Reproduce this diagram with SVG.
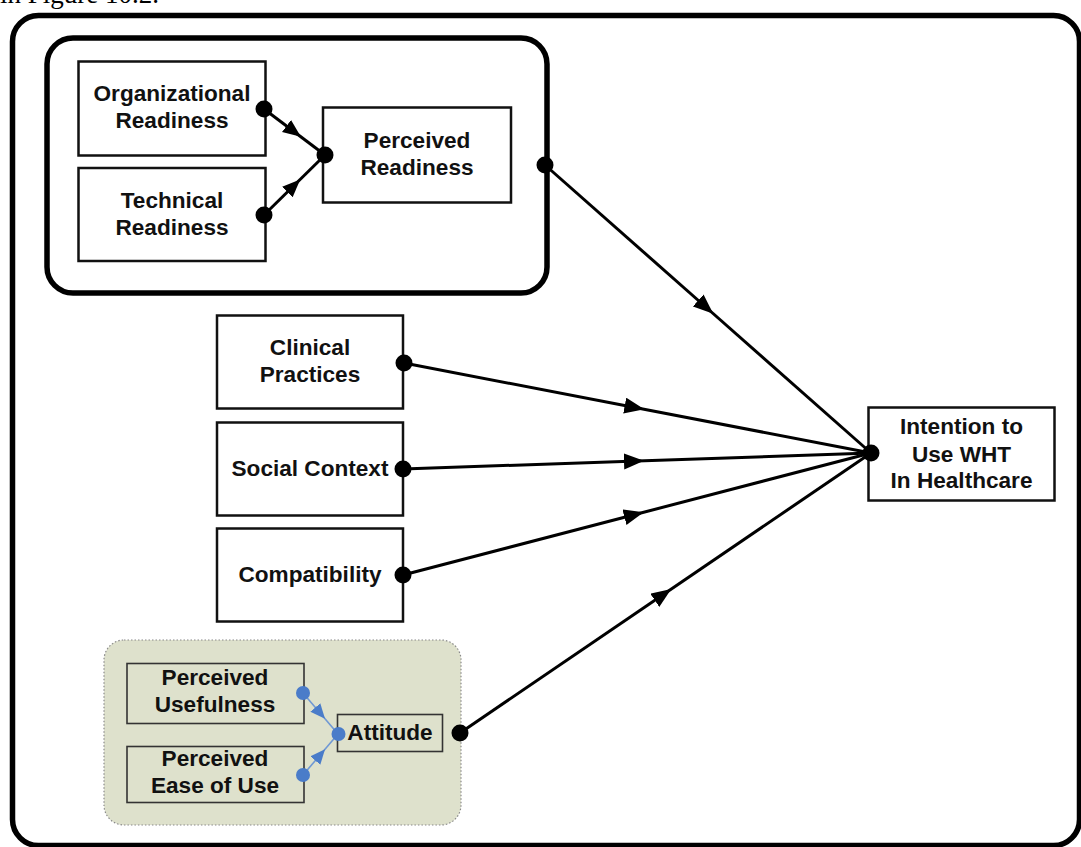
<svg xmlns="http://www.w3.org/2000/svg" width="1081" height="847" viewBox="0 0 1081 847">
  <defs>
    <marker id="arrow" markerUnits="userSpaceOnUse" markerWidth="21" markerHeight="17" refX="13" refY="8" orient="auto">
      <path d="M0,0 L20,8 L0,16 Z" fill="#000"/>
    </marker>
    <marker id="arrowSmall" markerUnits="userSpaceOnUse" markerWidth="19" markerHeight="16" refX="10" refY="7.5" orient="auto">
      <path d="M0,0 L18,7.5 L0,15 Z" fill="#000"/>
    </marker>
    <marker id="arrowBlue" markerUnits="userSpaceOnUse" markerWidth="16" markerHeight="14" refX="8" refY="6.5" orient="auto">
      <path d="M0,0 L15,6.5 L0,13 Z" fill="#4a7cc9"/>
    </marker>
  </defs>
  <style>
    .lbl { font-family: "Liberation Sans", Arial, sans-serif; font-weight: bold; font-size: 22.6px; fill: #111; text-anchor: middle; }
    .box { fill: #fff; stroke: #111; stroke-width: 2.5; }
    .subbox { fill: none; stroke: #333; stroke-width: 1.6; }
    .conn { stroke: #000; stroke-width: 3; fill: none; marker-mid: url(#arrow); }
    .connSmall { stroke: #000; stroke-width: 3; fill: none; marker-mid: url(#arrowSmall); }
    .connBlue { stroke: #6f98d4; stroke-width: 1.6; fill: none; marker-mid: url(#arrowBlue); }
    .dot { fill: #000; }
    .bdot { fill: #4a7cc9; }
  </style>

  <rect width="1081" height="847" fill="#fff"/>

  <!-- running text above the figure -->
  <text x="0" y="3" font-family="Liberation Serif, Times New Roman, serif" font-size="27" fill="#000">in Figure 10.2.</text>

  <!-- outer frame -->
  <rect x="12.5" y="15.5" width="1067" height="830" rx="26" fill="#fff" stroke="#000" stroke-width="5.5"/>

  <!-- readiness group frame -->
  <rect id="readiness-group" x="47" y="38" width="500" height="255" rx="26" fill="#fff" stroke="#000" stroke-width="5.5"/>

  <!-- attitude group frame -->
  <rect id="attitude-group" x="104" y="640" width="357" height="185" rx="20" fill="#dee1cc" stroke="#8a8a8a" stroke-width="1.2" stroke-dasharray="1.5 2"/>

  <g id="organizational-readiness">
    <rect class="box" x="78.5" y="61.5" width="187" height="94"/>
    <text class="lbl" x="172" y="101">Organizational</text>
    <text class="lbl" x="172" y="128">Readiness</text>
  </g>
  <g id="technical-readiness">
    <rect class="box" x="78.5" y="168" width="187" height="93"/>
    <text class="lbl" x="172" y="208">Technical</text>
    <text class="lbl" x="172" y="235">Readiness</text>
  </g>
  <g id="perceived-readiness">
    <rect class="box" x="323" y="107.5" width="188" height="95"/>
    <text class="lbl" x="417" y="148">Perceived</text>
    <text class="lbl" x="417" y="175">Readiness</text>
  </g>
  <g id="clinical-practices">
    <rect class="box" x="217" y="315.5" width="186" height="93"/>
    <text class="lbl" x="310" y="355">Clinical</text>
    <text class="lbl" x="310" y="382">Practices</text>
  </g>
  <g id="social-context">
    <rect class="box" x="217" y="422.5" width="186" height="93"/>
    <text class="lbl" x="310" y="476">Social Context</text>
  </g>
  <g id="compatibility">
    <rect class="box" x="217" y="528.5" width="186" height="93"/>
    <text class="lbl" x="310" y="582">Compatibility</text>
  </g>
  <g id="intention">
    <rect class="box" x="868.5" y="407.5" width="186" height="93"/>
    <text class="lbl" x="961.5" y="434">Intention to</text>
    <text class="lbl" x="961.5" y="462">Use WHT</text>
    <text class="lbl" x="961.5" y="488">In Healthcare</text>
  </g>
  <g id="perceived-usefulness">
    <rect class="subbox" x="127" y="663.5" width="177" height="60"/>
    <text class="lbl" x="215" y="685">Perceived</text>
    <text class="lbl" x="215" y="712">Usefulness</text>
  </g>
  <g id="perceived-ease-of-use">
    <rect class="subbox" x="127" y="746.5" width="177" height="56"/>
    <text class="lbl" x="215" y="766">Perceived</text>
    <text class="lbl" x="215" y="793">Ease of Use</text>
  </g>
  <g id="attitude">
    <rect class="subbox" x="337.5" y="714.5" width="105" height="37"/>
    <text class="lbl" x="390" y="739.5">Attitude</text>
  </g>

  <g id="connectors">
    <!-- inside readiness group -->
    <path class="connSmall" d="M264,109 L294.5,132 L325,155"/>
    <path class="connSmall" d="M264,215 L294.5,185 L325,155"/>
    <!-- inside attitude group -->
    <path class="connBlue" d="M303,693 L320.5,713.5 L338,734"/>
    <path class="connBlue" d="M303,775 L320.5,754.5 L338,734"/>
    <!-- into intention -->
    <path class="conn" d="M545,165 L708,309 L871,453"/>
    <path class="conn" d="M404,363 L637.5,408 L871,453"/>
    <path class="conn" d="M403,469 L637,461 L871,453"/>
    <path class="conn" d="M403,575 L637,514 L871,453"/>
    <path class="conn" d="M460,733 L665.5,593 L871,453"/>

    <circle class="dot" cx="264" cy="109" r="8.5"/>
    <circle class="dot" cx="264" cy="215" r="8.5"/>
    <circle class="dot" cx="325" cy="155" r="8.5"/>
    <circle class="dot" cx="545" cy="165" r="8.5"/>
    <circle class="dot" cx="404" cy="363" r="8.5"/>
    <circle class="dot" cx="403" cy="469" r="8.5"/>
    <circle class="dot" cx="403" cy="575" r="8.5"/>
    <circle class="dot" cx="460" cy="733" r="8.5"/>
    <circle class="dot" cx="871" cy="453" r="8.5"/>
    <circle class="bdot" cx="303" cy="693" r="7"/>
    <circle class="bdot" cx="303" cy="775" r="7"/>
    <circle class="bdot" cx="338.5" cy="734" r="7"/>
  </g>
</svg>
